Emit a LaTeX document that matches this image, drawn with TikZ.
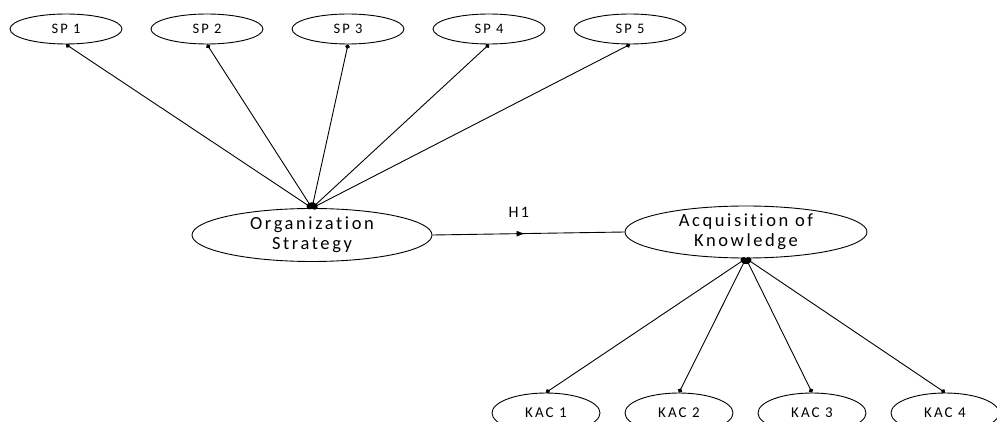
\documentclass[tikz,border=0pt]{standalone}
\usepackage{fontspec}
\setmainfont{Carlito}
\newfontfamily\widefont[LetterSpace=14, Ligatures=NoCommon]{Carlito}
\usetikzlibrary{shapes.geometric, arrows.meta, positioning, decorations.markings}

\begin{document}
\begin{tikzpicture}[x=1pt, y=-1pt, node distance=141pt, line width=0.9pt]
\tikzstyle{spnode} = [ellipse, draw, minimum width=112pt, minimum height=30pt, inner sep=0pt, font=\widefont\fontsize{14.5}{16}\selectfont]
\tikzstyle{kacnode} = [ellipse, draw, minimum width=108pt, minimum height=40pt, inner sep=0pt, font=\widefont\fontsize{15}{17}\selectfont]
\tikzstyle{latent} = [ellipse, draw, minimum width=240pt, minimum height=53pt, inner sep=0pt, align=center, font=\widefont\fontsize{18.5}{20}\selectfont]
\tikzstyle{formative} = [draw, {Circle[length=4.5pt]}-{Circle[length=6pt]}]
\tikzstyle{reflective} = [draw, {Circle[length=6pt]}-{Circle[length=4.5pt]}]
\tikzstyle{path} = [draw, postaction={decorate}, decoration={markings, mark=at position 0.48 with {\arrow{Latex[length=8pt, width=6pt]}}}]

\useasboundingbox (0,0) rectangle (997,422);

\node [spnode] (sp1) at (66,29) {SP 1};
\node [spnode, right of=sp1] (sp2) {SP 2};
\node [spnode, right of=sp2] (sp3) {SP 3};
\node [spnode, right of=sp3] (sp4) {SP 4};
\node [spnode, right of=sp4] (sp5) {SP 5};

\node [latent] (org) at (312,235) {Organization\\Strategy};
\node [latent, minimum width=242pt, minimum height=52pt] (acq) at (746,232) {Acquisition of\\Knowledge};

\node [kacnode] (kac1) at (546,413) {KAC 1};
\node [kacnode, right of=kac1, node distance=133pt] (kac2) {KAC 2};
\node [kacnode, right of=kac2, node distance=133pt] (kac3) {KAC 3};
\node [kacnode, right of=kac3, node distance=133pt] (kac4) {KAC 4};

\foreach \i in {1,...,5}
  \draw [formative] (sp\i.south) -- (org.north);
\foreach \i in {1,...,4}
  \draw [reflective] (acq.south) -- (kac\i.north);

\draw [path] (org.east) -- node [pos=0.45, above=12pt, font=\widefont\fontsize{16}{18}\selectfont] (h1) {H1} (acq.west);
\end{tikzpicture}
\end{document}
